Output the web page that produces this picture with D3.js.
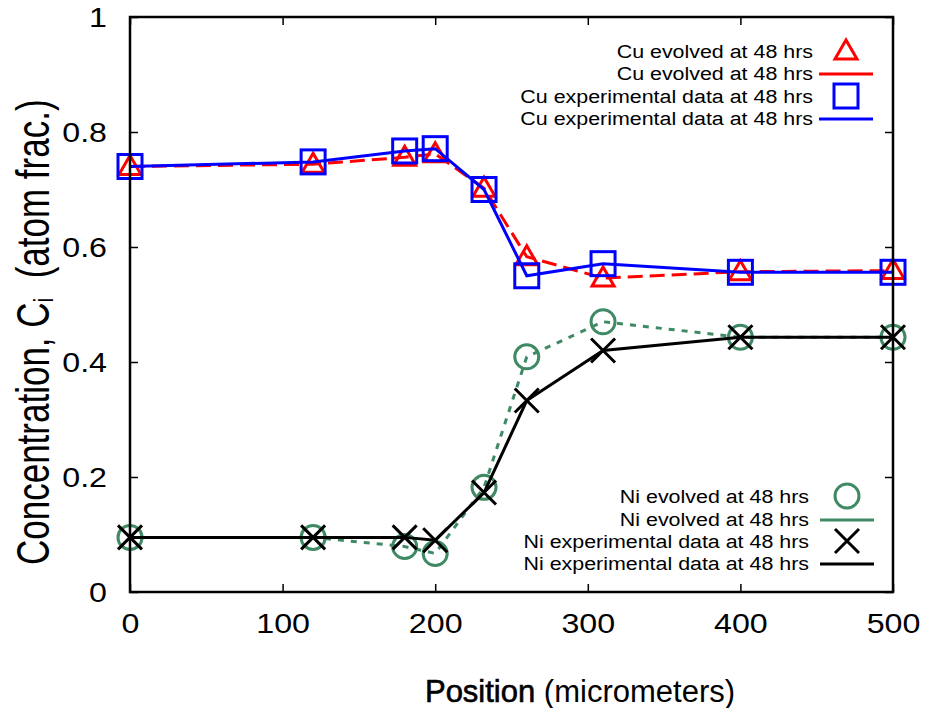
<!DOCTYPE html>
<html>
<head>
<meta charset="utf-8">
<script src="https://cdn.jsdelivr.net/npm/d3@7"></script>
<style>
  body { margin: 0; background: #fff; }
  svg { font-family: "Liberation Sans", Arial, sans-serif; }
</style>
</head>
<body>
<svg id="chart" width="925" height="708"></svg>
<script>
// positions (micrometers)
const positions = [0, 120, 180, 200, 232, 260, 310, 400, 500];

// concentrations
const cuEvolved = [0.740, 0.744, 0.756, 0.762, 0.702, 0.583, 0.546, 0.557, 0.559];
const cuExperimental = [0.740, 0.748, 0.767, 0.771, 0.700, 0.550, 0.571, 0.556, 0.556];
const niEvolved = [0.095, 0.095, 0.079, 0.067, 0.182, 0.409, 0.470, 0.443, 0.443];
const niExperimental = [0.095, 0.095, 0.095, 0.090, 0.173, 0.333, 0.420, 0.443, 0.443];

const xTicks = [0, 100, 200, 300, 400, 500];
const yTicks = [0, 0.2, 0.4, 0.6, 0.8, 1];

const legendTop = ["Cu evolved at 48 hrs", "Cu evolved at 48 hrs",
    "Cu experimental data at 48 hrs", "Cu experimental data at 48 hrs"];
const legendBottom = ["Ni evolved at 48 hrs", "Ni evolved at 48 hrs",
    "Ni experimental data at 48 hrs", "Ni experimental data at 48 hrs"];

const svg = d3.select("#chart");
const plotLeft = 130, plotRight = 893, plotTop = 17, plotBottom = 592;
const tickLen = 8;
const stretch = 1.15; // the original fonts are a bit wider than Liberation Sans

const x = d3.scaleLinear().domain([0, 500]).range([plotLeft, plotRight]);
const y = d3.scaleLinear().domain([0, 1]).range([plotBottom, plotTop]);

const series = [
    { values: cuEvolved, color: "#ff0000", dash: "15,7", marker: "triangle" },
    { values: niEvolved, color: "#3f8a64", dash: "6,7", marker: "circle" },
    { values: cuExperimental, color: "#0000ff", dash: null, marker: "square" },
    { values: niExperimental, color: "#000000", dash: null, marker: "cross" },
];

// axes: labelled bottom/left, mirrored ticks top/right, all pointing inward
function styleAxis(g) {
    g.select(".domain").remove();
    g.selectAll(".tick line").attr("stroke", "#000").attr("stroke-width", 1.5);
    g.selectAll(".tick text").attr("font-size", "28px").attr("fill", "#000")
        .attr("font-family", "Liberation Sans, Arial, sans-serif");
}

svg.append("g")
    .attr("transform", `translate(0,${plotBottom})`)
    .call(d3.axisBottom(x).tickValues(xTicks).tickSizeInner(-tickLen).tickSizeOuter(0))
    .call(styleAxis)
    .call(g => g.selectAll(".tick text").attr("y", 41).attr("dy", null)
        .attr("transform", `scale(${stretch},1)`));
svg.append("g")
    .attr("transform", `translate(0,${plotTop})`)
    .call(d3.axisTop(x).tickValues(xTicks).tickSizeInner(-tickLen).tickSizeOuter(0).tickFormat(""))
    .call(styleAxis);
svg.append("g")
    .attr("transform", `translate(${plotLeft},0)`)
    .call(d3.axisLeft(y).tickValues(yTicks).tickSizeInner(-tickLen).tickSizeOuter(0).tickFormat(d3.format("")))
    .call(styleAxis)
    .call(g => g.selectAll(".tick text").attr("x", -23 / stretch).attr("dy", "0.35em")
        .attr("transform", `scale(${stretch},1)`));
svg.append("g")
    .attr("transform", `translate(${plotRight},0)`)
    .call(d3.axisRight(y).tickValues(yTicks).tickSizeInner(-tickLen).tickSizeOuter(0).tickFormat(""))
    .call(styleAxis);

// markers
function drawMarker(g, type, color, cx, cy) {
    if (type === "triangle") {
        g.append("path")
            .attr("d", `M${cx},${cy - 11}L${cx + 11},${cy + 8}L${cx - 11},${cy + 8}Z`)
            .attr("fill", "none").attr("stroke", color).attr("stroke-width", 3);
    } else if (type === "square") {
        g.append("rect")
            .attr("x", cx - 12).attr("y", cy - 12).attr("width", 24).attr("height", 24)
            .attr("fill", "none").attr("stroke", color).attr("stroke-width", 3);
    } else if (type === "circle") {
        g.append("circle")
            .attr("cx", cx).attr("cy", cy).attr("r", 12)
            .attr("fill", "none").attr("stroke", color).attr("stroke-width", 3);
    } else {
        g.append("path")
            .attr("d", `M${cx - 12},${cy - 12}L${cx + 12},${cy + 12}M${cx - 12},${cy + 12}L${cx + 12},${cy - 12}`)
            .attr("fill", "none").attr("stroke", color).attr("stroke-width", 3);
    }
}

const line = d3.line().x(d => x(d[0])).y(d => y(d[1]));
const plot = svg.append("g");
series.forEach(s => {
    const pts = positions.map((p, i) => [p, s.values[i]]);
    plot.append("path")
        .attr("d", line(pts))
        .attr("fill", "none")
        .attr("stroke", s.color)
        .attr("stroke-width", 3)
        .attr("stroke-dasharray", s.dash);
    pts.forEach(p => drawMarker(plot, s.marker, s.color, x(p[0]), y(p[1])));
});

// frame on top
svg.append("rect")
    .attr("x", plotLeft).attr("y", plotTop)
    .attr("width", plotRight - plotLeft).attr("height", plotBottom - plotTop)
    .attr("fill", "none").attr("stroke", "#000").attr("stroke-width", 2.5);

// legends
function legend(labels, rows, textX, markerX, items) {
    const g = svg.append("g");
    labels.forEach((lab, i) => {
        g.append("g")
            .attr("transform", `translate(${textX},${rows[i] + 6}) scale(1.19,1)`)
            .append("text")
            .attr("text-anchor", "end")
            .attr("font-size", "18px")
            .text(lab);
        const it = items[i];
        if (it.marker) {
            drawMarker(g, it.marker, it.color, markerX, rows[i] - 1);
        } else {
            g.append("line")
                .attr("x1", markerX - 27).attr("x2", markerX + 27)
                .attr("y1", rows[i]).attr("y2", rows[i])
                .attr("stroke", it.color).attr("stroke-width", 3);
        }
    });
}

legend(legendTop, [52, 74, 97, 119], 813, 846, [
    { marker: "triangle", color: "#ff0000" }, { color: "#ff0000" },
    { marker: "square", color: "#0000ff" }, { color: "#0000ff" }]);
legend(legendBottom, [497, 520, 542, 564], 809, 847, [
    { marker: "circle", color: "#3f8a64" }, { color: "#3f8a64" },
    { marker: "cross", color: "#000000" }, { color: "#000000" }]);

// axis titles
const xt = svg.append("text")
    .attr("x", 580).attr("y", 702)
    .attr("text-anchor", "middle")
    .attr("font-size", "31px");
xt.append("tspan").attr("stroke", "#000").attr("stroke-width", 0.6).text("Position");
xt.append("tspan").text(" (micrometers)");

const yt = svg.append("g")
    .attr("transform", "translate(49,565) scale(1.3,1) rotate(-90)")
    .append("text")
    .attr("text-anchor", "start")
    .attr("font-size", "35px");
yt.append("tspan").text("Concentration, C");
yt.append("tspan").attr("font-size", "21px").attr("dy", 3).text("i");
yt.append("tspan").attr("dy", -3).attr("xml:space", "preserve").text("  (atom frac.)");
</script>
</body>
</html>
